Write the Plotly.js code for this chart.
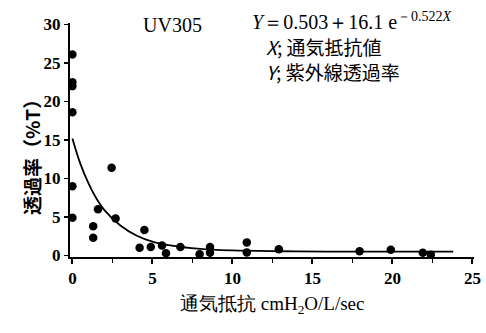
<!DOCTYPE html>
<html>
<head>
<meta charset="utf-8">
<script src="https://cdn.plot.ly/plotly-3.0.1.min.js"></script>
<style>html,body{margin:0;padding:0;background:#fff;}#chart{width:486px;height:333px;}</style>
</head>
<body>
<div id="chart"></div>
<script>
// Measured points: air-flow resistance (cmH2O/L/sec) vs UV transmittance (%T)
const resistance = [0, 0, 0, 0, 0, 0, 1.3, 1.3, 1.6, 2.45, 2.7, 4.2, 4.5, 4.9, 5.6, 5.85, 6.75, 7.95, 8.6, 8.6, 10.9, 10.9, 12.9, 17.95, 19.9, 21.9, 22.4];
const transmittance = [26.1, 22.5, 22.0, 18.6, 9.0, 4.9, 3.8, 2.3, 6.0, 11.4, 4.8, 1.0, 3.3, 1.1, 1.3, 0.3, 1.1, 0.15, 1.1, 0.35, 1.7, 0.4, 0.8, 0.55, 0.75, 0.35, 0.1];
// Fitted curve
const curveX = [0, 0.5, 1, 1.5, 2, 3, 4, 5, 6, 8, 10, 13, 16, 20, 23.8];
const curveY = [15.2, 11.9, 9.4, 7.4, 5.9, 3.9, 2.6, 1.8, 1.35, 0.85, 0.65, 0.55, 0.5, 0.5, 0.5];
const xTicks = [0, 5, 10, 15, 20, 25];
const yTicks = [0, 5, 10, 15, 20, 25, 30];

const serif = "'Liberation Serif', 'DejaVu Serif', serif";
const cjk = "'Noto Sans CJK JP', sans-serif";

const M = {l: 70, r: 12, t: 23, b: 76};
const W = 486, H = 333;
const PW = W - M.l - M.r, PH = H - M.t - M.b;
const px = v => (v - M.l) / PW;
const py = v => (H - M.b - v) / PH;

const traces = [
  {x: curveX, y: curveY, mode: 'lines', line: {color: '#000', width: 1.8, shape: 'spline'}, hoverinfo: 'skip'},
  {x: resistance, y: transmittance, mode: 'markers', marker: {color: '#000', size: 8.5}}
];

const layout = {
  width: W, height: H,
  margin: M,
  paper_bgcolor: '#fff', plot_bgcolor: '#fff',
  showlegend: false,
  xaxis: {
    range: [-0.15, 25.1], tickvals: xTicks, ticktext: xTicks.map(String),
    showgrid: false, zeroline: false, showline: true, linecolor: '#000', linewidth: 2,
    ticks: 'outside', ticklen: 5, tickwidth: 2, tickcolor: '#000',
    minor: {dtick: 2.5, ticks: 'outside', ticklen: 4, tickwidth: 1.5, tickcolor: '#000', showgrid: false},
    tickfont: {family: serif, size: 17, color: '#000', weight: 'bold'}
  },
  yaxis: {
    range: [-0.2, 30.2], tickvals: yTicks, ticktext: yTicks.map(String),
    showgrid: false, zeroline: false, showline: true, linecolor: '#000', linewidth: 2,
    ticks: 'outside', ticklen: 4, tickwidth: 1.5, tickcolor: '#000',
    tickfont: {family: serif, size: 17, color: '#000', weight: 'bold'}
  },
  annotations: [
    {xref: 'paper', yref: 'paper', x: px(31), y: py(153), text: '透過率（%T）', textangle: -90, showarrow: false,
     font: {family: cjk, size: 19, color: '#000', weight: 'bold'}, xanchor: 'center', yanchor: 'middle'},
    {xref: 'paper', yref: 'paper', x: px(272), y: py(305), text: '通気抵抗 cmH<sub>2</sub>O/L/sec', showarrow: false,
     font: {family: serif, size: 19, color: '#000'}, xanchor: 'center', yanchor: 'middle'},
    {xref: 'paper', yref: 'paper', x: px(172), y: py(25), text: 'UV305', showarrow: false,
     font: {family: serif, size: 20, color: '#000'}, xanchor: 'center', yanchor: 'middle'},
    {xref: 'paper', yref: 'paper', x: px(250), y: py(21), text: '<i>Y</i>＝0.503＋16.1 e<sup>－0.522<i>X</i></sup>', showarrow: false,
     font: {family: serif, size: 20, color: '#000'}, xanchor: 'left', yanchor: 'middle'},
    {xref: 'paper', yref: 'paper', x: px(264), y: py(46), text: '<i>X</i>; 通気抵抗値', showarrow: false,
     font: {family: cjk, size: 19, color: '#000'}, xanchor: 'left', yanchor: 'middle'},
    {xref: 'paper', yref: 'paper', x: px(264), y: py(71), text: '<i>Y</i>; 紫外線透過率', showarrow: false,
     font: {family: cjk, size: 19, color: '#000'}, xanchor: 'left', yanchor: 'middle'}
  ]
};

Plotly.newPlot('chart', traces, layout, {displayModeBar: false, staticPlot: true});
</script>
</body>
</html>
